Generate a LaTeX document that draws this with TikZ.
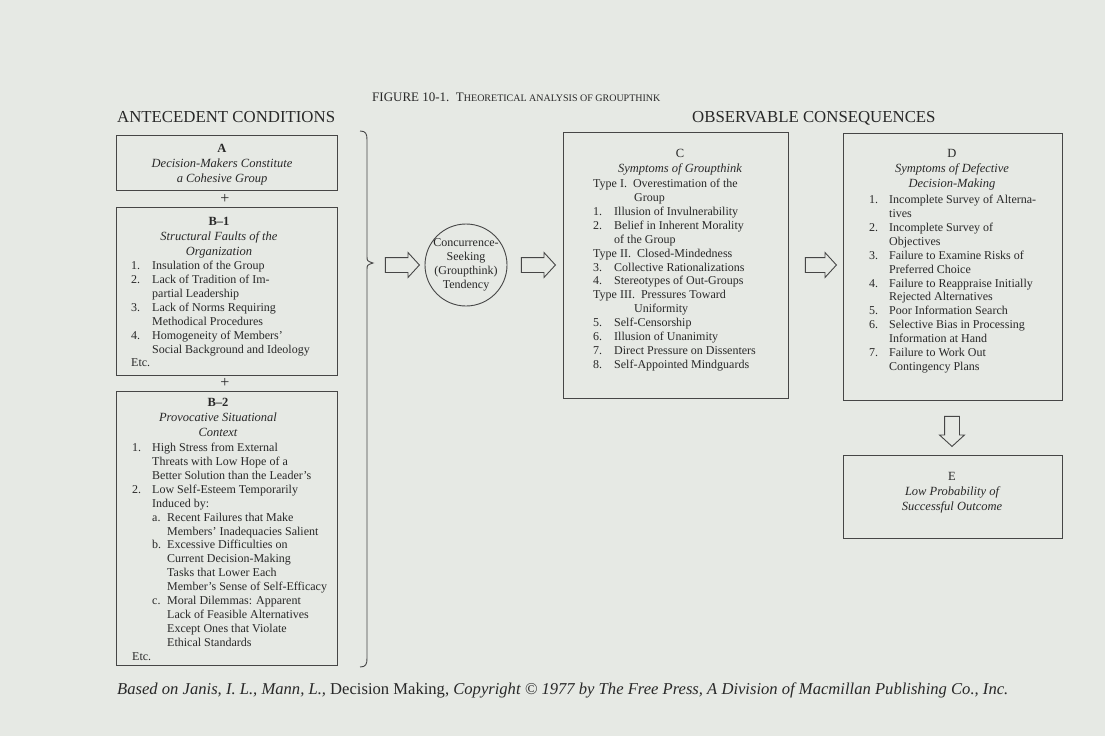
\documentclass[tikz,border=0pt]{standalone}
\usepackage{fontspec}
\setmainfont{Liberation Serif}
\usetikzlibrary{shapes.arrows}

\definecolor{paper}{RGB}{230,233,228}
\definecolor{ink}{RGB}{40,40,40}
\definecolor{rule}{RGB}{70,70,70}

\newcommand{\listfont}{\fontsize{12}{13.9}\selectfont}
\newcommand{\headfont}{\fontsize{12.5}{15}\selectfont}

\tikzset{
  frame/.style={draw=rule, line width=0.9pt, anchor=north west, inner sep=0pt},
  head/.style={anchor=north, inner sep=0pt, text=ink, font=\headfont},
  list/.style={anchor=north west, inner sep=0pt, text=ink, font=\listfont},
  blockarrow/.style={single arrow, draw=rule, line width=0.9pt, inner xsep=0pt,
    inner ysep=7pt, single arrow head extend=5pt, single arrow tip angle=95,
    minimum height=#1},
  caption/.style={anchor=base west, inner sep=0pt, text=ink},
  plus/.style={text=ink, font=\fontsize{16}{18}\selectfont, inner sep=0pt}
}

\begin{document}
\begin{tikzpicture}[x=1pt,y=-1pt]

\fill[paper] (0,0) rectangle (1105,736);

\node[caption] (title) at (372,101) {\fontsize{13}{15}\selectfont FIGURE 10-1.\ \ T{\fontsize{10}{12}\selectfont HEORETICAL ANALYSIS OF GROUPTHINK}};
\node[caption, font=\fontsize{16.8}{18}\selectfont] (antecedents) at (117,122) {ANTECEDENT CONDITIONS};
\node[caption, font=\fontsize{16.8}{18}\selectfont] (consequences) at (692,122) {OBSERVABLE CONSEQUENCES};

% antecedent conditions
\node[frame, minimum width=221pt, minimum height=55pt] (boxA) at (116,135) {};
\node[head] (headA) at (222,141.5) {\begin{tabular}{@{}c@{}}\textbf{A}\\ \itshape Decision-Makers Constitute\\ \itshape a Cohesive Group\end{tabular}};

\node[plus] (plusAB) at (225,199) {+};

\node[frame, minimum width=221pt, minimum height=168pt] (boxBone) at (116,207) {};
\node[head] (headBone) at (219,214.5) {\begin{tabular}{@{}c@{}}\textbf{B--1}\\ \itshape Structural Faults of the\\ \itshape Organization\end{tabular}};
\node[list] (listBone) at (131,259.7) {\begin{tabular}{@{}p{21pt}@{}l@{}}
1. & Insulation of the Group\\
2. & Lack of Tradition of Im-\\
 & partial Leadership\\
3. & Lack of Norms Requiring\\
 & Methodical Procedures\\
4. & Homogeneity of Members'\\
 & Social Background and Ideology\\
\multicolumn{2}{@{}l@{}}{Etc.}
\end{tabular}};

\node[plus] (plusBB) at (225,383) {+};

\node[frame, minimum width=221pt, minimum height=274pt] (boxBtwo) at (116,391) {};
\node[head] (headBtwo) at (218,395.5) {\begin{tabular}{@{}c@{}}\textbf{B--2}\\ \itshape Provocative Situational\\ \itshape Context\end{tabular}};
\node[list] (listBtwo) at (132,441.7) {\begin{tabular}{@{}p{20pt}@{}p{15pt}@{}l@{}}
1. & \multicolumn{2}{@{}l@{}}{High Stress from External}\\
 & \multicolumn{2}{@{}l@{}}{Threats with Low Hope of a}\\
 & \multicolumn{2}{@{}l@{}}{Better Solution than the Leader's}\\
2. & \multicolumn{2}{@{}l@{}}{Low Self-Esteem Temporarily}\\
 & \multicolumn{2}{@{}l@{}}{Induced by:}\\
 & a. & Recent Failures that Make\\
 & & Members' Inadequacies Salient\\
 & b. & Excessive Difficulties on\\
 & & Current Decision-Making\\
 & & Tasks that Lower Each\\
 & & Member's Sense of Self-Efficacy\\
 & c. & Moral Dilemmas: Apparent\\
 & & Lack of Feasible Alternatives\\
 & & Except Ones that Violate\\
 & & Ethical Standards\\
\multicolumn{3}{@{}l@{}}{Etc.}
\end{tabular}};

\draw[rule, line width=0.9pt] (360,131) .. controls (366,131) and (367,134) .. (367,140)
  -- (367,256) .. controls (367,261) .. (373,263) .. controls (367,265) .. (367,270)
  -- (367,658) .. controls (367,664) and (366,667) .. (360,667);

% tendency
\node[blockarrow=34pt] (arrowIn) at (399,265) {};
\node[circle, draw=rule, line width=0.9pt, minimum size=82pt, inner sep=0pt] (tendency) at (466,265) {};
\node[inner sep=0pt, text=ink, font=\listfont] (tendencytext) at (tendency.center) {\begin{tabular}{@{}c@{}}Concurrence-\\Seeking\\(Groupthink)\\Tendency\end{tabular}};
\node[blockarrow=34pt] (arrowOut) at (535,265) {};

% observable consequences
\node[frame, minimum width=225pt, minimum height=266pt] (boxC) at (563,132) {};
\node[head] (headC) at (680,146.5) {\begin{tabular}{@{}c@{}}C\\ \itshape Symptoms of Groupthink\end{tabular}};
\node[list] (listC) at (593,177.7) {\begin{tabular}{@{}p{21pt}@{}l@{}}
\multicolumn{2}{@{}l@{}}{Type I.\hspace{6pt}Overestimation of the}\\
\multicolumn{2}{@{}l@{}}{\hspace{41pt}Group}\\
1. & Illusion of Invulnerability\\
2. & Belief in Inherent Morality\\
 & of the Group\\
\multicolumn{2}{@{}l@{}}{Type II.\hspace{6pt}Closed-Mindedness}\\
3. & Collective Rationalizations\\
4. & Stereotypes of Out-Groups\\
\multicolumn{2}{@{}l@{}}{Type III.\hspace{6pt}Pressures Toward}\\
\multicolumn{2}{@{}l@{}}{\hspace{41pt}Uniformity}\\
5. & Self-Censorship\\
6. & Illusion of Unanimity\\
7. & Direct Pressure on Dissenters\\
8. & Self-Appointed Mindguards
\end{tabular}};

\node[blockarrow=31pt] (arrowD) at (817.5,265) {};

\node[frame, minimum width=219pt, minimum height=267pt] (boxD) at (843,133) {};
\node[head] (headD) at (952,146.5) {\begin{tabular}{@{}c@{}}D\\ \itshape Symptoms of Defective\\ \itshape Decision-Making\end{tabular}};
\node[list] (listD) at (869,193.7) {\begin{tabular}{@{}p{20pt}@{}l@{}}
1. & Incomplete Survey of Alterna-\\
 & tives\\
2. & Incomplete Survey of\\
 & Objectives\\
3. & Failure to Examine Risks of\\
 & Preferred Choice\\
4. & Failure to Reappraise Initially\\
 & Rejected Alternatives\\
5. & Poor Information Search\\
6. & Selective Bias in Processing\\
 & Information at Hand\\
7. & Failure to Work Out\\
 & Contingency Plans
\end{tabular}};

\node[blockarrow=30pt, rotate=-90] (arrowE) at (952,428) {};

\node[frame, minimum width=219pt, minimum height=83pt] (boxE) at (843,455) {};
\node[head] (headE) at (952,469.5) {\begin{tabular}{@{}c@{}}E\\ \itshape Low Probability of\\ \itshape Successful Outcome\end{tabular}};

\node[caption, font=\fontsize{16.6}{18}\selectfont] (source) at (117,694) {\itshape Based on Janis, I. L., Mann, L., \upshape Decision Making, \itshape Copyright © 1977 by The Free Press, A Division of Macmillan Publishing Co., Inc.};

\end{tikzpicture}
\end{document}
